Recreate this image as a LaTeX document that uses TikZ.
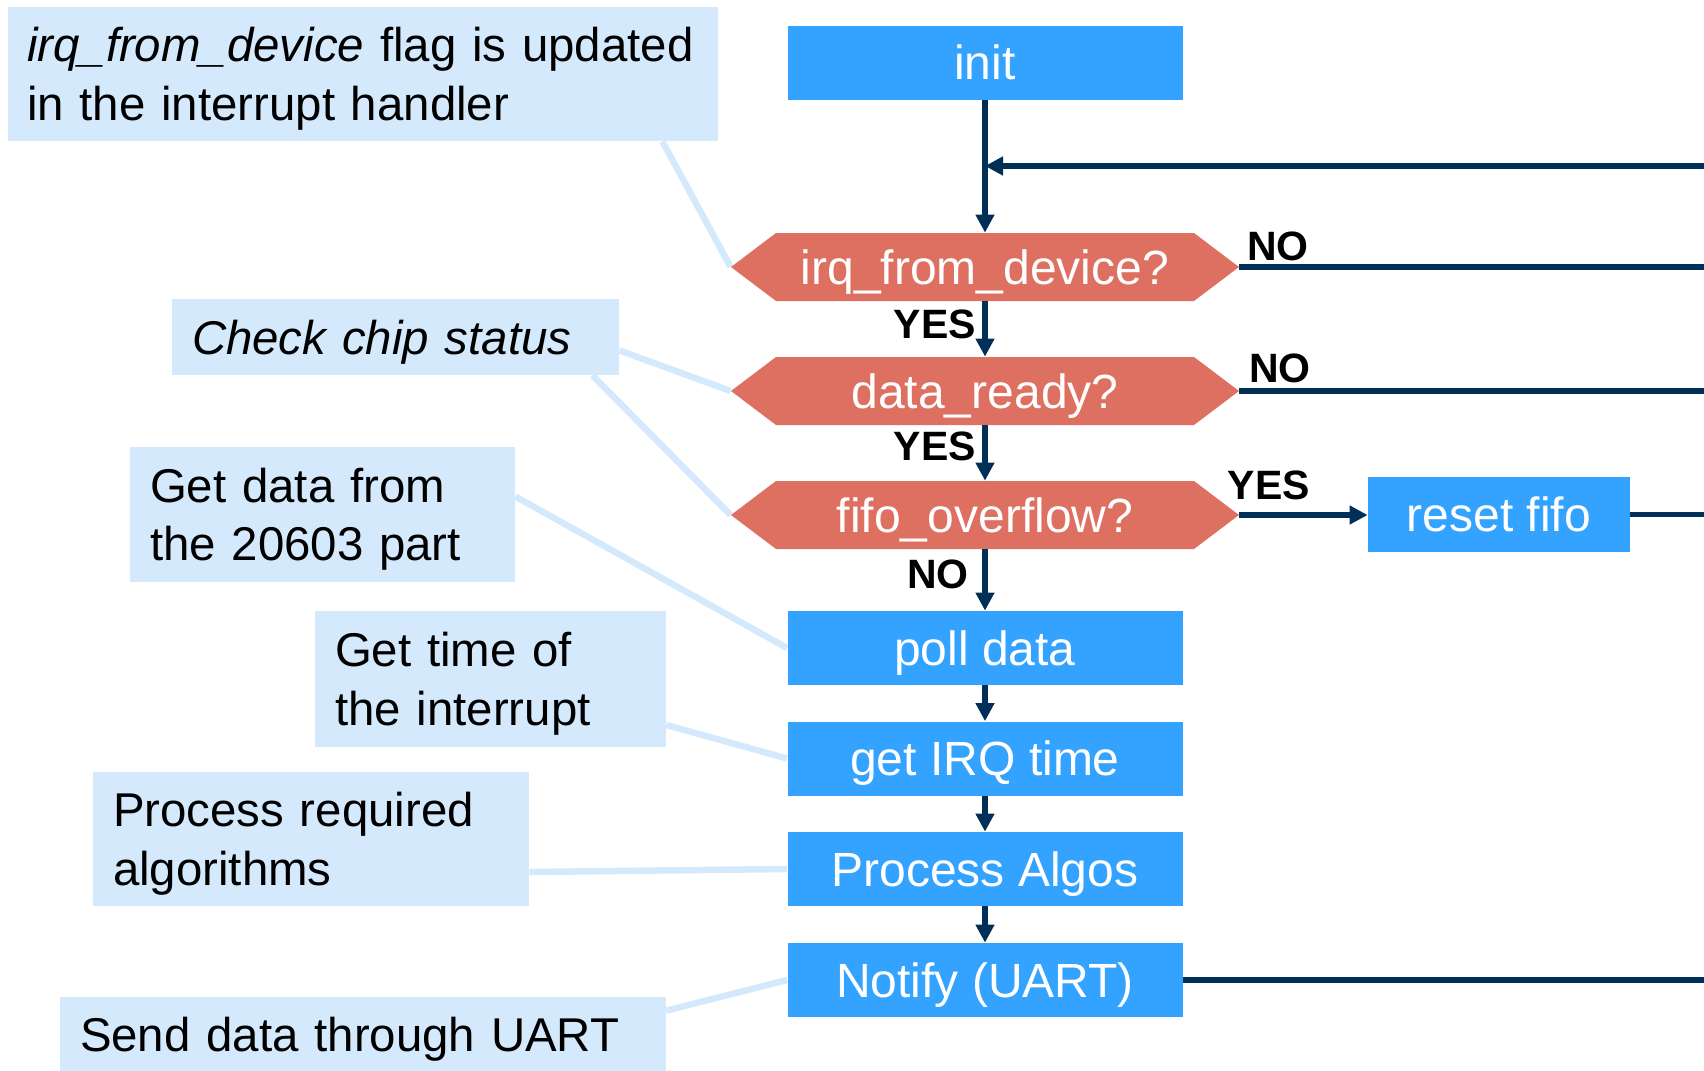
\documentclass[tikz,border=0pt]{standalone}
\usepackage{fontspec}
\setmainfont{Liberation Sans}
\usetikzlibrary{arrows.meta,backgrounds,calc}
\definecolor{boxblue}{RGB}{51,163,255}
\definecolor{hexred}{RGB}{222,112,97}
\definecolor{navy}{RGB}{0,48,87}
\definecolor{noteblue}{RGB}{212,234,252}
\begin{document}
\begin{tikzpicture}[x=0.5pt,y=-0.5pt,
  stepbox/.style={rectangle, fill=boxblue, text=white, minimum width=197.5pt,
    minimum height=37pt, inner sep=0pt, text height=17.2pt, text depth=0pt,
    font=\fontsize{24}{29}\selectfont},
  decision/.style={rectangle, text=white, minimum width=254pt,
    minimum height=34pt, inner sep=0pt, text height=17.2pt, text depth=0pt,
    font=\fontsize{24}{29}\selectfont,
    path picture={\fill[hexred] (path picture bounding box.west)
      -- ([xshift=22.5pt]path picture bounding box.north west)
      -- ([xshift=-22.5pt]path picture bounding box.north east)
      -- (path picture bounding box.east)
      -- ([xshift=-22.5pt]path picture bounding box.south east)
      -- ([xshift=22.5pt]path picture bounding box.south west) -- cycle;}},
  note/.style={rectangle, fill=noteblue, align=left, inner ysep=0pt, inner xsep=10pt,
    font=\fontsize{23.7}{29.3}\selectfont},
  oneline/.style={note, text height=17.3pt, text depth=0pt},
  twoline/.style={note, text height=17.3pt, text depth=29.6pt},
  callout/.style={draw=noteblue, line width=3.25pt},
  conn/.style={draw=navy, line width=2.9pt},
  arr/.style={conn, -{Triangle[length=9pt,width=9pt]}},
  lbl/.style={inner sep=0pt, font=\fontsize{20.5}{24}\selectfont\bfseries}]
\useasboundingbox (0,0) rectangle (1704,1071);

% main flow
\node[stepbox] (init) at (985,62.5) {init};
\node[decision] (irq) at (985,267) {irq\_from\_device?};
\node[decision] (ready) at (985,391) {data\_ready?};
\node[decision] (fifo) at (985,515) {fifo\_overflow?};
\node[stepbox, minimum width=131pt, minimum height=37.5pt] (reset) at (1499,514.5) {reset fifo};
\node[stepbox] (poll) at (985,648) {poll data};
\node[stepbox] (irqt) at (985,758.5) {get IRQ time};
\node[stepbox] (proc) at (985,869) {Process Algos};
\node[stepbox] (notify) at (985,980) {Notify (UART)};

% side notes
\node[twoline, inner xsep=9.5pt, text width=336pt, minimum height=67pt] (n1) at (363,74)
  {\textit{irq\_from\_device} flag is updated\\in the interrupt handler};
\node[oneline, text width=203.5pt, minimum height=38pt] (n2) at (395.5,337)
  {\textit{Check chip status}};
\node[twoline, text width=172.5pt, minimum height=67.5pt] (n3) at (322.5,514.5)
  {Get data from\\the 20603 part};
\node[twoline, text width=155.5pt, minimum height=68pt] (n4) at (490.5,679)
  {Get time of\\the interrupt};
\node[twoline, text width=198pt, minimum height=67pt] (n5) at (311,839)
  {Process required\\algorithms};
\node[oneline, text width=283pt, minimum height=37pt] (n6) at (363,1034)
  {Send data through UART};

% note leaders, behind the boxes
\begin{scope}[on background layer]
  \draw[callout] ($(n1.south east)+(-56,0)$) -- (irq.west);
  \draw[callout] ($(n2.south east)+(0,-25)$) -- (ready.west);
  \draw[callout] ($(n2.south east)+(-27,0)$) -- (fifo.west);
  \draw[callout] ($(n3.east)+(0,-18)$) -- (poll.west);
  \draw[callout] ($(n4.east)+(0,46)$) -- (irqt.west);
  \draw[callout] ($(n5.east)+(0,33)$) -- (proc.west);
  \draw[callout] ($(n6.north east)+(0,14)$) -- (notify.west);
\end{scope}

% connectors
\coordinate (edge) at (1704,0);
\coordinate (loopR) at (1704,166);
\draw[arr] (init) -- (irq);
\draw[arr] (loopR) -- (loopR -| init.south);
\draw[arr] (irq) -- (ready);
\draw[arr] (ready) -- (fifo);
\draw[arr] (fifo) -- (poll);
\draw[arr] (poll) -- (irqt);
\draw[arr] (irqt) -- (proc);
\draw[arr] (proc) -- (notify);
\draw[arr] (fifo.east) -- (fifo.east -| reset.west);
\draw[conn] (irq.east) -- (irq.east -| edge);
\draw[conn] (ready.east) -- (ready.east -| edge);
\draw[conn] (reset.east) -- (reset.east -| edge);
\draw[conn] (notify.east) -- (notify.east -| edge);

% branch labels
\node[lbl] (noA) at (1278,246) {NO};
\node[lbl] (noB) at (1280,368) {NO};
\node[lbl] (yesR) at (1269,485) {YES};
\node[lbl] (yesA) at (935,324) {YES};
\node[lbl] (yesB) at (935,446) {YES};
\node[lbl] (noC) at (938,574) {NO};
\end{tikzpicture}
\end{document}
